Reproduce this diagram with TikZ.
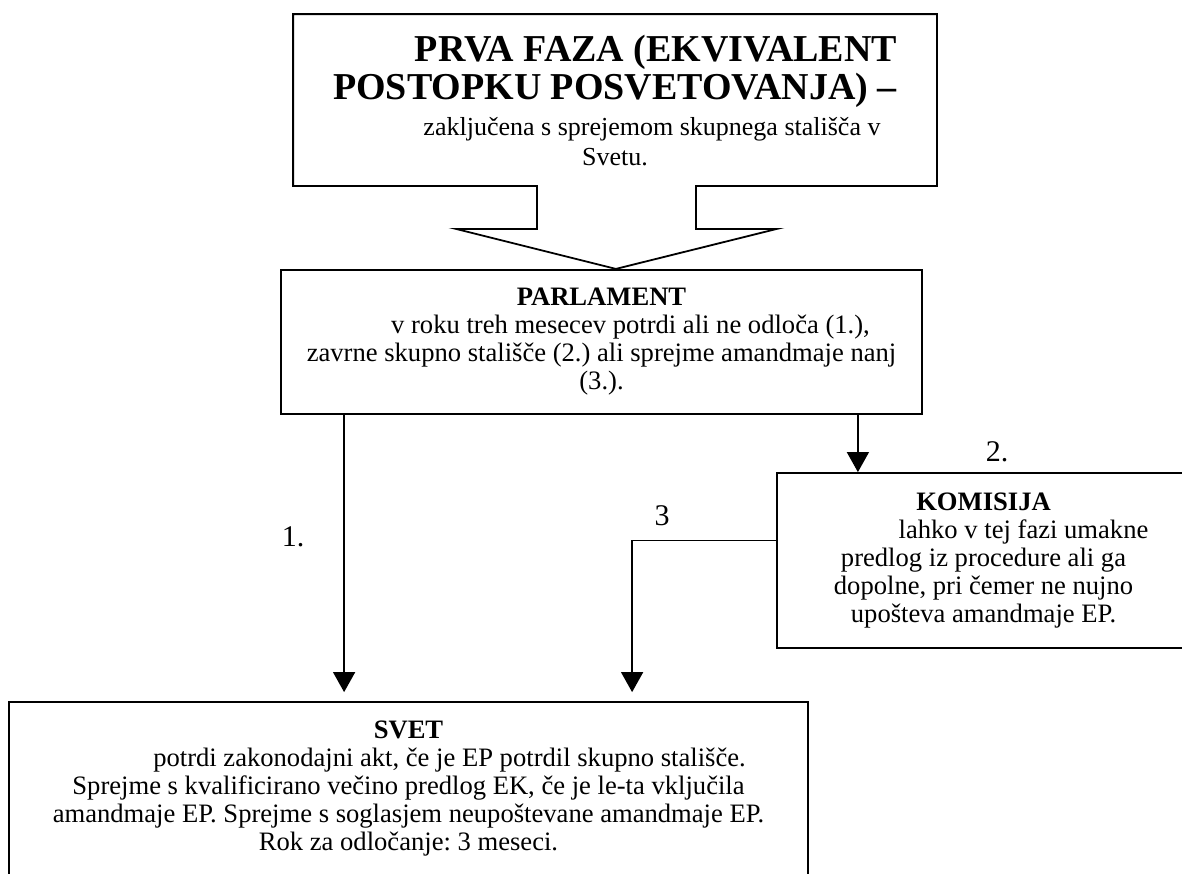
\documentclass[tikz,border=0pt]{standalone}
\usepackage{fontspec}
\setmainfont{Liberation Serif}
\usetikzlibrary{arrows.meta}
\setlength{\parindent}{0pt}
\frenchspacing
\newcommand{\textfaza}{{\fontsize{19}{19}\selectfont\bfseries
  \hspace*{41pt}PRVA FAZA (EKVIVALENT\\ POSTOPKU POSVETOVANJA) –\par}%
  \vspace{3pt}{\fontsize{13}{15}\selectfont
  \hspace*{37pt}zaključena s sprejemom skupnega stališča v\\ Svetu.\par}}
\newcommand{\textparlament}{\textbf{PARLAMENT}\\
  \hspace*{29pt}v roku treh mesecev potrdi ali ne odloča (1.),\\
  zavrne skupno stališče (2.) ali sprejme amandmaje nanj\\ (3.).}
\newcommand{\textkomisija}{\textbf{KOMISIJA}\\
  \hspace*{40pt}lahko v tej fazi umakne\\
  predlog iz procedure ali ga\\
  dopolne, pri čemer ne nujno\\
  upošteva amandmaje EP.}
\newcommand{\textsvet}{\textbf{SVET}\\
  \hspace*{41pt}potrdi zakonodajni akt, če je EP potrdil skupno stališče.\\
  Sprejme s kvalificirano večino predlog EK, če je le-ta vključila\\
  amandmaje EP. Sprejme s soglasjem neupoštevane amandmaje EP.\\
  Rok za odločanje: 3 meseci.}

\begin{document}
\begin{tikzpicture}[x=0.5pt,y=-0.5pt,
    box/.style={draw,line width=0.9pt,inner sep=1pt,align=flush center,%
                font=\fontsize{13.3}{14}\selectfont},
    arr/.style={-{Triangle[length=10pt,width=11pt]},line width=0.7pt},
    lbl/.style={font=\fontsize{15}{17}\selectfont,inner sep=0pt}
]
\useasboundingbox (0,0) rectangle (1182,873);

\node[box,draw=none,minimum width=321pt,minimum height=85pt,text width=317pt]
    (faza) at (615,100) {\textfaza};
\draw[line width=0.9pt] (faza.north west) -- (faza.north east) -- (faza.south east)
    -- ++(-241,0) -- ++(0,43) -- ++(81,0) -- ++(-161,40) -- ++(-160,-40)
    -- ++(81,0) -- ++(0,-43) -- (faza.south west) -- cycle;

\node[box,minimum width=320.5pt,minimum height=72pt,text width=316pt]
    (parlament) at (601.5,342) {\textparlament};
\node[box,minimum width=206.5pt,minimum height=87.5pt,text width=203pt]
    (komisija) at (983.5,560.5) {\textkomisija};
\begin{scope}
\clip (0,0) rectangle (1182,873);
\node[box,minimum width=399.5pt,minimum height=87pt,text width=395pt]
    (svet) at (408.5,789) {\textsvet};
\end{scope}

\coordinate (k1) at ([xshift=32pt]parlament.south west);
\coordinate (k2) at ([xshift=-32.5pt]parlament.south east);
\coordinate (k3) at ([xshift=312pt]svet.north west);
\draw[arr,shorten >=4.5pt] (k1) -- (k1 |- svet.north);
\draw[arr] (k2) -- (k2 |- komisija.north);
\draw[arr,shorten >=4.5pt] ([yshift=10pt]komisija.west) -| (k3);

\node[lbl] (lab1) at (293,537) {1.};
\node[lbl] (lab2) at (997,452) {2.};
\node[lbl] (lab3) at (662,516) {3};

\end{tikzpicture}
\end{document}
